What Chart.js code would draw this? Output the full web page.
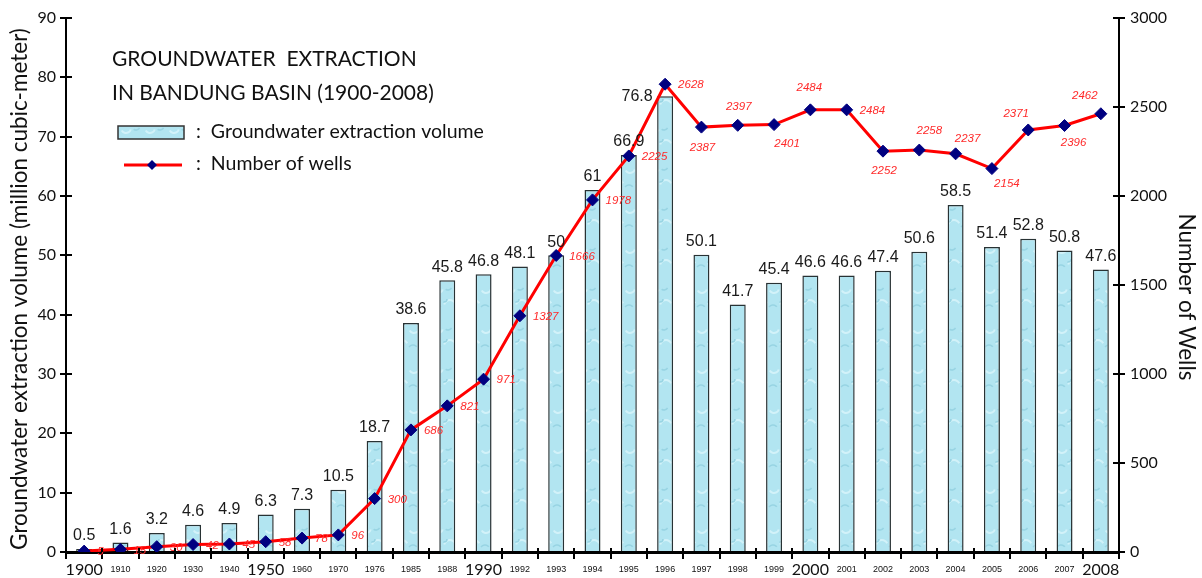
<!DOCTYPE html>
<html lang="en">
<head>
    <meta charset="UTF-8">
    <title>Groundwater Extraction in Bandung Basin</title>
    <script src="https://cdn.jsdelivr.net/npm/chart.js"></script>
    <style>
        body { margin: 0; background: #fff; }
        #wrap { width: 1202px; height: 578px; }
    </style>
</head>
<body>
    <div id="wrap"><canvas id="gwChart" width="1202" height="578"></canvas></div>

    <script>
        // data
        const years = ['1900', '1910', '1920', '1930', '1940', '1950', '1960', '1970', '1976', '1985',
                       '1988', '1990', '1992', '1993', '1994', '1995', '1996', '1997', '1998', '1999',
                       '2000', '2001', '2002', '2003', '2004', '2005', '2006', '2007', '2008'];
        const volume = [0.5, 1.6, 3.2, 4.6, 4.9, 6.3, 7.3, 10.5, 18.7, 38.6,
                        45.8, 46.8, 48.1, 50, 61, 66.9, 76.8, 50.1, 41.7, 45.4,
                        46.6, 46.6, 47.4, 50.6, 58.5, 51.4, 52.8, 50.8, 47.6];
        const wells = [5, 15, 30, 42, 45, 58, 78, 96, 300, 686,
                       821, 971, 1327, 1666, 1978, 2225, 2628, 2387, 2397, 2401,
                       2484, 2484, 2252, 2258, 2237, 2154, 2371, 2396, 2462];
        const bigYears = ['1900', '1950', '1990', '2000', '2008'];

        // where the red well labels sit relative to their point (default: to the right)
        const wellLabelPos = {
            17: [1, 21], 18: [1, -19], 19: [13, 19], 20: [-1, -22], 22: [1, 20],
            23: [10, -19], 24: [12, -15], 25: [15, 15], 26: [-12, -16], 27: [9, 17], 28: [-16, -18]
        };

        // watery texture for the bars
        function makeWaterPattern() {
            const c = document.createElement('canvas');
            c.width = 24; c.height = 40;
            const g = c.getContext('2d');
            g.fillStyle = '#b2e5f1';
            g.fillRect(0, 0, 24, 40);
            g.strokeStyle = '#d2f2f9';
            g.lineWidth = 2;
            g.beginPath(); g.arc(6, 8, 5, 0.3, 2.6); g.stroke();
            g.beginPath(); g.arc(18, 26, 6, 3.4, 5.8); g.stroke();
            g.strokeStyle = '#98d4e3';
            g.lineWidth = 1.5;
            g.beginPath(); g.arc(16, 6, 4, 0.5, 2.2); g.stroke();
            g.beginPath(); g.arc(5, 30, 5, 3.8, 5.6); g.stroke();
            g.beginPath(); g.arc(12, 19, 3, 0, 1.8); g.stroke();
            return g.createPattern(c, 'repeat');
        }
        const water = makeWaterPattern();

        const valueLabels = {
            id: 'valueLabels',
            afterDatasetsDraw(chart) {
                const ctx = chart.ctx;
                ctx.save();
                // bar values (the 1996 one sits beside its bar, under the peak marker)
                const bars = chart.getDatasetMeta(0).data;
                ctx.font = '16px "Liberation Sans", Arial, sans-serif';
                ctx.fillStyle = '#1a1a1a';
                ctx.textAlign = 'center';
                ctx.textBaseline = 'middle';
                bars.forEach((b, i) => {
                    if (i === 16) ctx.fillText(String(volume[i]), b.x - 28, b.y);
                    else ctx.fillText(String(volume[i]), b.x, b.y - 13);
                });
                // well counts
                const pts = chart.getDatasetMeta(1).data;
                ctx.font = 'italic 11.5px "Liberation Sans", Arial, sans-serif';
                ctx.fillStyle = '#ff2a2a';
                pts.forEach((p, i) => {
                    const off = wellLabelPos[i];
                    if (off) {
                        ctx.textAlign = 'center';
                        ctx.fillText(String(wells[i]), p.x + off[0], p.y + off[1]);
                    } else {
                        ctx.textAlign = 'left';
                        ctx.fillText(String(wells[i]), p.x + 13, p.y + 1);
                    }
                });
                ctx.restore();
            }
        };

        const decorations = {
            id: 'decorations',
            afterDraw(chart) {
                const ctx = chart.ctx;
                const area = chart.chartArea;
                ctx.save();
                // inward tick marks
                ctx.strokeStyle = '#000';
                ctx.lineWidth = 2;
                ['y', 'y1'].forEach(id => {
                    const s = chart.scales[id];
                    const x0 = id === 'y' ? area.left : area.right;
                    const dir = id === 'y' ? 1 : -1;
                    s.ticks.forEach((t, i) => {
                        const py = Math.round(s.getPixelForTick(i));
                        ctx.beginPath(); ctx.moveTo(x0, py); ctx.lineTo(x0 + dir * 6, py); ctx.stroke();
                    });
                });
                const xs = chart.scales.x;
                for (let i = 1; i < years.length; i++) {
                    const px = Math.round((xs.getPixelForTick(i - 1) + xs.getPixelForTick(i)) / 2);
                    ctx.beginPath(); ctx.moveTo(px, area.bottom); ctx.lineTo(px, area.bottom - 4); ctx.stroke();
                }

                // axis titles
                ctx.fillStyle = '#111';
                ctx.textAlign = 'center';
                ctx.textBaseline = 'middle';
                ctx.save();
                ctx.font = '22.5px Lato, sans-serif';
                ctx.translate(20, 289);
                ctx.rotate(-Math.PI / 2);
                ctx.fillText('Groundwater extraction volume (million cubic-meter)', 0, 0);
                ctx.restore();
                ctx.save();
                ctx.font = '22.5px Lato, sans-serif';
                ctx.translate(1186, 297);
                ctx.rotate(Math.PI / 2);
                ctx.fillText('Number of Wells', 0, 0);
                ctx.restore();

                // title block
                ctx.textAlign = 'left';
                ctx.textBaseline = 'alphabetic';
                ctx.font = '21px Lato, sans-serif';
                ctx.fillText('GROUNDWATER  EXTRACTION', 112, 66);
                ctx.fillText('IN BANDUNG BASIN (1900-2008)', 112, 100);

                // legend
                ctx.fillStyle = water;
                ctx.fillRect(118, 126, 66, 13);
                ctx.strokeStyle = '#333';
                ctx.lineWidth = 1.5;
                ctx.strokeRect(118, 126, 66, 13);
                ctx.strokeStyle = '#ff0000';
                ctx.lineWidth = 3;
                ctx.beginPath(); ctx.moveTo(124, 165); ctx.lineTo(182, 165); ctx.stroke();
                ctx.fillStyle = '#000080';
                ctx.beginPath();
                ctx.moveTo(152, 160); ctx.lineTo(157, 165); ctx.lineTo(152, 170); ctx.lineTo(147, 165);
                ctx.closePath(); ctx.fill();
                ctx.fillStyle = '#111';
                ctx.font = '19.5px Lato, sans-serif';
                ctx.fillText(':  Groundwater extraction volume', 196, 138);
                ctx.fillText(':  Number of wells', 196, 170);
                ctx.restore();
            }
        };

        const tickFont = { family: 'Lato, sans-serif', size: 16 };

        new Chart(document.getElementById('gwChart'), {
            data: {
                labels: years,
                datasets: [
                    {
                        type: 'bar',
                        label: 'Groundwater extraction volume',
                        data: volume,
                        yAxisID: 'y',
                        backgroundColor: water,
                        borderColor: '#283234',
                        borderWidth: 1.5,
                        barPercentage: 0.44,
                        categoryPercentage: 1,
                        order: 2
                    },
                    {
                        type: 'line',
                        label: 'Number of wells',
                        data: wells,
                        yAxisID: 'y1',
                        borderColor: '#ff0000',
                        borderWidth: 3,
                        tension: 0,
                        pointStyle: 'rectRot',
                        pointRadius: 6,
                        pointBorderWidth: 1,
                        pointBackgroundColor: '#000080',
                        pointBorderColor: '#000080',
                        order: 1
                    }
                ]
            },
            options: {
                responsive: false,
                animation: false,
                layout: { padding: { top: 18 } },
                plugins: {
                    legend: { display: false },
                    tooltip: { enabled: false }
                },
                scales: {
                    x: {
                        type: 'category',
                        offset: true,
                        grid: { offset: true, drawOnChartArea: false, tickLength: 7, color: '#000', lineWidth: 2 },
                        border: { color: '#000', width: 3 },
                        ticks: {
                            autoSkip: false,
                            maxRotation: 0,
                            padding: 1,
                            color: '#111',
                            font: c => bigYears.includes(years[c.index])
                                ? { family: 'Lato, sans-serif', size: 16, lineHeight: '19px' }
                                : { family: '"Liberation Sans", Arial, sans-serif', size: 9, lineHeight: '20px' }
                        },
                        afterFit: s => { s.height = 26; }
                    },
                    y: {
                        position: 'left',
                        min: 0,
                        max: 90,
                        grid: { drawOnChartArea: false, tickLength: 6, color: '#000', lineWidth: 2 },
                        border: { color: '#000', width: 2 },
                        ticks: { stepSize: 10, padding: 4, color: '#111', font: tickFont },
                        afterFit: s => { s.width = 66; }
                    },
                    y1: {
                        position: 'right',
                        min: 0,
                        max: 3000,
                        grid: { drawOnChartArea: false, tickLength: 6, color: '#000', lineWidth: 2 },
                        border: { color: '#000', width: 2 },
                        ticks: { stepSize: 500, padding: 5, color: '#111', font: tickFont, callback: v => String(v) },
                        afterFit: s => { s.width = 83; }
                    }
                }
            },
            plugins: [valueLabels, decorations]
        });
    </script>
</body>
</html>
